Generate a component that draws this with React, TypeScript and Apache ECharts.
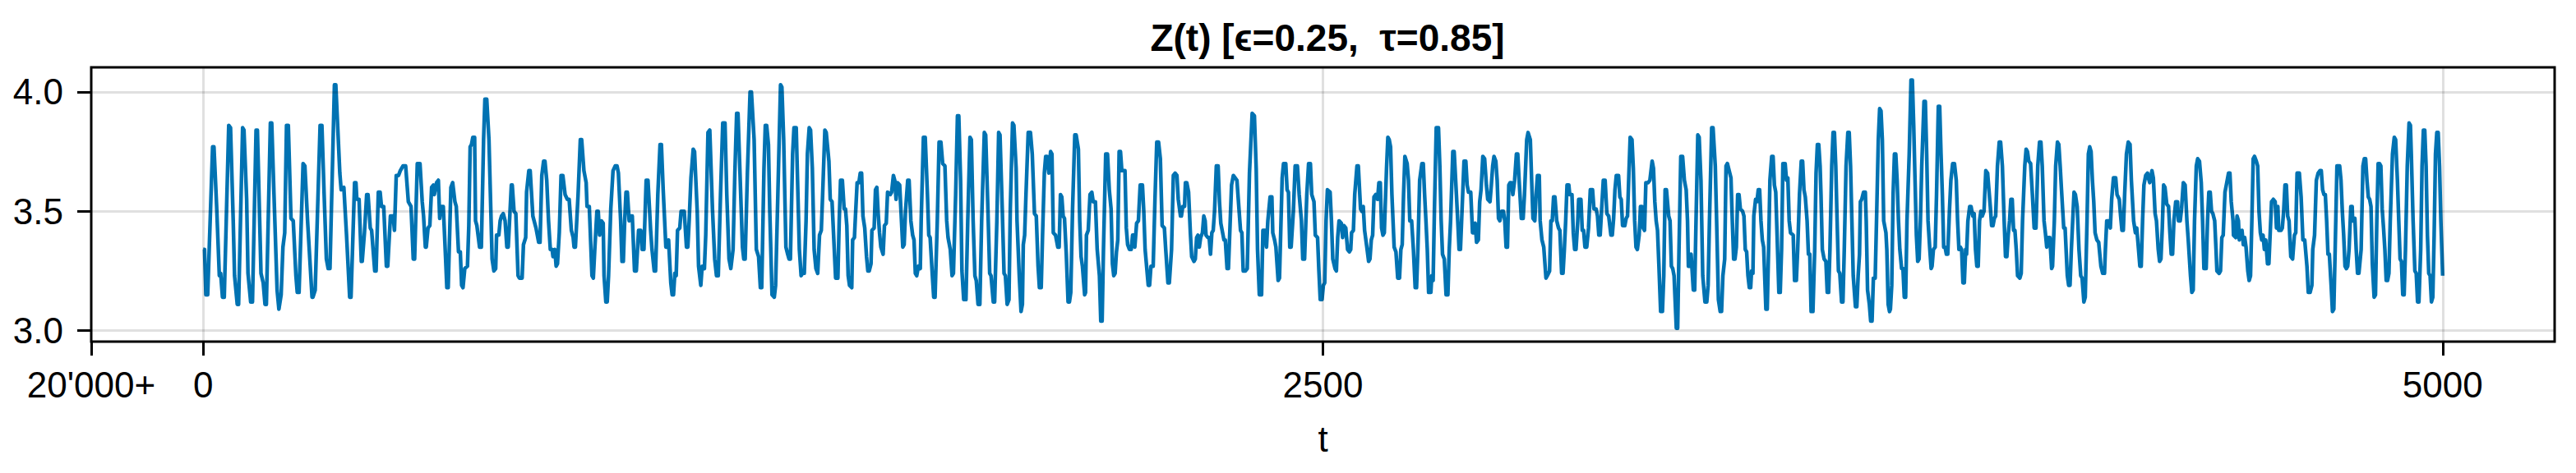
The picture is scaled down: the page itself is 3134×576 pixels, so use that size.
import React, { useEffect, useRef } from 'react';
import * as echarts from 'echarts';

const TITLE = 'Z(t) [ϵ=0.25,  τ=0.85]';
const X_NAME = 't';
const X_OFFSET_LABEL = "20'000+";
const X_LIMITS = [-250, 5250];
const Y_LIMITS = [2.954, 4.103];
const X_TICKS = [0, 2500, 5000];
const Y_TICKS = [3.0, 3.5, 4.0];

// Z(t) samples, [t, Z]
const zA = [[0,3.34],[3,3.34],[6,3.15],[10,3.15],[21,3.77],[24,3.77],[30,3.52],[36,3.23],[39,3.24],[43,3.14],[47,3.14],[57,3.86],[61,3.85],[67,3.46],[70,3.23],[76,3.11],[79,3.11],[88,3.85],[91,3.84],[97,3.55],[100,3.24],[106,3.12],[110,3.12],[118,3.84],[121,3.84],[129,3.24],[134,3.2],[138,3.11],[141,3.11],[150,3.87],[153,3.87],[158,3.57],[165,3.17],[169,3.09],[174,3.15],[178,3.35],[182,3.41],[186,3.86],[190,3.86],[196,3.47],[201,3.46],[207,3.23],[210,3.16],[214,3.16],[223,3.7],[227,3.69],[233,3.46],[238,3.3],[243,3.14],[245,3.14],[250,3.17],[261,3.86],[265,3.86],[270,3.57],[275,3.3],[279,3.26],[283,3.26],[293,4.03],[296,4.03],[305,3.66],[308,3.59],[314,3.6],[320,3.4],[327,3.14],[330,3.14],[338,3.62],[341,3.62],[343,3.55],[348,3.55],[353,3.29],[355,3.29],[360,3.41],[365,3.57],[368,3.57],[373,3.43],[376,3.42],[383,3.25],[386,3.25],[391,3.58],[395,3.58],[398,3.52],[403,3.52],[409,3.27],[412,3.27],[418,3.48],[424,3.48],[427,3.42],[431,3.65],[436,3.65],[440,3.67],[446,3.69],[452,3.69],[458,3.54],[464,3.52],[469,3.3],[472,3.3],[478,3.7],[484,3.7],[489,3.54],[492,3.48],[496,3.35],[498,3.35],[502,3.43],[506,3.44],[510,3.6],[514,3.61],[516,3.57],[521,3.62],[525,3.63],[528,3.47],[531,3.52],[536,3.52],[541,3.31],[544,3.18],[547,3.18],[553,3.6],[557,3.62],[562,3.54],[565,3.52],[570,3.33],[574,3.33],[577,3.19],[580,3.18],[584,3.26],[590,3.27],[593,3.44],[596,3.77],[599,3.78],[602,3.81],[606,3.81],[608,3.46],[611,3.44],[617,3.35],[621,3.35],[626,3.8],[629,3.97],[633,3.97],[638,3.8],[645,3.3],[649,3.25],[653,3.26],[655,3.4],[660,3.4],[663,3.46],[666,3.48]];

const zB = [[670,3.49],[674,3.46],[678,3.35],[681,3.35],[688,3.61],[690,3.61],[694,3.5],[698,3.49],[703,3.23],[706,3.22],[712,3.22],[715,3.36],[720,3.39],[722,3.58],[727,3.67],[730,3.67],[736,3.48],[743,3.43],[749,3.37],[752,3.37],[756,3.65],[760,3.71],[763,3.71],[767,3.63],[771,3.46],[775,3.34],[779,3.34],[781,3.31],[785,3.34],[788,3.27],[791,3.28],[795,3.41],[799,3.65],[803,3.65],[808,3.57],[813,3.55],[817,3.55],[822,3.42],[826,3.39],[828,3.35],[831,3.35],[837,3.57],[842,3.8],[845,3.8],[850,3.67],[855,3.62],[857,3.52],[862,3.52],[868,3.23],[871,3.22],[874,3.33],[879,3.5],[882,3.5],[885,3.4],[889,3.46],[893,3.45],[895,3.23],[899,3.12],[902,3.12],[905,3.23],[910,3.51],[915,3.67],[920,3.69],[924,3.69],[927,3.66],[932,3.46],[935,3.29],[938,3.29],[941,3.46],[944,3.58],[947,3.58],[951,3.46],[954,3.48],[958,3.48],[963,3.25],[967,3.25],[972,3.42],[977,3.42],[980,3.34],[984,3.34],[989,3.63],[993,3.63],[999,3.42],[1002,3.34],[1007,3.25],[1010,3.25],[1015,3.57],[1020,3.78],[1023,3.78],[1027,3.59],[1033,3.35],[1036,3.35],[1039,3.38],[1044,3.2],[1047,3.15],[1050,3.15],[1053,3.24],[1056,3.23],[1059,3.42],[1064,3.43],[1067,3.5],[1074,3.5],[1079,3.35],[1082,3.35],[1085,3.46],[1089,3.64],[1094,3.76],[1097,3.75],[1103,3.5],[1106,3.27],[1111,3.19],[1114,3.27],[1119,3.26],[1122,3.4],[1127,3.83],[1131,3.84],[1137,3.51],[1142,3.3],[1146,3.23],[1150,3.23],[1155,3.57],[1160,3.87],[1165,3.87],[1169,3.57],[1174,3.3],[1178,3.26],[1183,3.34],[1187,3.66],[1191,3.91],[1194,3.91],[1199,3.63],[1204,3.35],[1207,3.3],[1210,3.3],[1215,3.66],[1221,4.0],[1224,4.0],[1230,3.8],[1235,3.34],[1240,3.31],[1244,3.18],[1247,3.18],[1252,3.68],[1255,3.86],[1258,3.86],[1262,3.78],[1265,3.5],[1270,3.15],[1275,3.14],[1278,3.19],[1283,3.57],[1289,4.03],[1292,4.02],[1296,3.8],[1301,3.35],[1305,3.32],[1308,3.3],[1311,3.3],[1316,3.74],[1319,3.85],[1324,3.85]];

const zC = [[1327,3.63],[1331,3.34],[1335,3.23],[1338,3.24],[1342,3.24],[1346,3.46],[1349,3.74],[1353,3.85],[1356,3.84],[1360,3.68],[1364,3.34],[1368,3.26],[1372,3.24],[1376,3.4],[1380,3.42],[1383,3.57],[1388,3.84],[1391,3.83],[1394,3.77],[1397,3.71],[1400,3.55],[1404,3.54],[1409,3.34],[1412,3.22],[1417,3.22],[1420,3.46],[1423,3.63],[1427,3.63],[1431,3.51],[1434,3.51],[1437,3.44],[1440,3.23],[1443,3.19],[1448,3.18],[1450,3.38],[1454,3.39],[1456,3.47],[1460,3.62],[1464,3.62],[1467,3.66],[1470,3.66],[1473,3.48],[1477,3.43],[1481,3.31],[1484,3.25],[1487,3.25],[1491,3.28],[1493,3.42],[1498,3.43],[1501,3.59],[1504,3.6],[1507,3.49],[1510,3.41],[1513,3.35],[1518,3.32],[1521,3.44],[1525,3.45],[1528,3.58],[1534,3.57],[1537,3.58],[1541,3.65],[1544,3.63],[1547,3.55],[1550,3.62],[1555,3.61],[1559,3.46],[1562,3.35],[1565,3.36],[1568,3.5],[1573,3.63],[1576,3.63],[1580,3.46],[1584,3.4],[1587,3.38],[1590,3.24],[1593,3.23],[1597,3.27],[1601,3.26],[1603,3.46],[1608,3.81],[1612,3.81],[1617,3.57],[1620,3.4],[1623,3.39],[1628,3.23],[1631,3.14],[1634,3.14],[1639,3.46],[1643,3.79],[1647,3.79],[1651,3.7],[1656,3.69],[1660,3.46],[1663,3.39],[1668,3.34],[1672,3.23],[1675,3.24],[1680,3.57],[1684,3.9],[1687,3.9],[1691,3.63],[1694,3.25],[1698,3.13],[1703,3.13],[1707,3.46],[1712,3.81],[1715,3.8],[1719,3.46],[1723,3.23],[1726,3.21],[1730,3.11],[1734,3.11],[1738,3.46],[1744,3.83],[1747,3.82],[1752,3.51],[1756,3.24],[1759,3.23],[1764,3.12],[1767,3.12],[1772,3.46],[1776,3.83],[1779,3.82],[1784,3.51],[1788,3.24],[1791,3.23],[1795,3.11],[1799,3.13],[1802,3.51],[1807,3.87],[1810,3.86],[1815,3.68],[1817,3.46],[1822,3.23],[1826,3.08],[1829,3.11],[1831,3.36],[1834,3.4],[1837,3.57],[1842,3.83],[1847,3.83],[1851,3.74],[1856,3.49],[1860,3.48],[1864,3.27],[1867,3.18],[1871,3.18],[1874,3.4],[1878,3.66],[1881,3.73],[1884,3.73],[1888,3.66],[1892,3.75],[1895,3.74],[1898,3.41],[1903,3.4],[1908,3.35],[1911,3.35],[1914,3.57],[1917,3.56],[1920,3.48],[1923,3.47],[1927,3.32],[1931,3.12],[1934,3.12],[1937,3.16],[1941,3.51],[1946,3.82],[1949,3.82],[1954,3.76],[1957,3.46],[1960,3.31],[1963,3.27],[1968,3.15],[1970,3.16],[1972,3.4],[1976,3.42],[1980,3.57],[1984,3.58]];

const zD = [[1987,3.54],[1992,3.54],[1996,3.34],[2001,3.23],[2004,3.04],[2007,3.04],[2010,3.34],[2015,3.74],[2019,3.74],[2023,3.59],[2027,3.51],[2030,3.28],[2033,3.23],[2036,3.24],[2039,3.33],[2042,3.38],[2045,3.75],[2048,3.75],[2051,3.67],[2058,3.67],[2061,3.43],[2064,3.36],[2068,3.34],[2072,3.34],[2075,3.4],[2078,3.4],[2080,3.35],[2084,3.45],[2088,3.46],[2092,3.61],[2097,3.61],[2100,3.5],[2103,3.34],[2110,3.19],[2113,3.19],[2116,3.27],[2121,3.27],[2125,3.55],[2129,3.79],[2133,3.79],[2137,3.72],[2141,3.44],[2146,3.43],[2149,3.34],[2154,3.2],[2157,3.2],[2162,3.34],[2166,3.65],[2170,3.66],[2174,3.65],[2177,3.55],[2182,3.48],[2184,3.48],[2187,3.52],[2191,3.52],[2193,3.62],[2196,3.62],[2200,3.58],[2204,3.41],[2207,3.31],[2212,3.29],[2215,3.3],[2218,3.39],[2221,3.4],[2224,3.35],[2227,3.39],[2231,3.41],[2234,3.48],[2237,3.46],[2239,3.4],[2243,3.39],[2246,3.39],[2249,3.32],[2252,3.41],[2255,3.42],[2258,3.5],[2262,3.69],[2266,3.69],[2269,3.54],[2272,3.45],[2276,3.41],[2279,3.38],[2282,3.38],[2286,3.26],[2289,3.26],[2293,3.46],[2296,3.61],[2300,3.65],[2304,3.64],[2308,3.63],[2311,3.55],[2316,3.42],[2319,3.41],[2322,3.25],[2327,3.25],[2331,3.26],[2336,3.66],[2342,3.91],[2347,3.9],[2351,3.68],[2354,3.34],[2358,3.15],[2363,3.15],[2366,3.42],[2371,3.42],[2374,3.35],[2377,3.46],[2382,3.56],[2386,3.56],[2388,3.41],[2392,3.38],[2395,3.35],[2400,3.21],[2403,3.22],[2406,3.43],[2409,3.64],[2412,3.7],[2417,3.7],[2420,3.59],[2423,3.58],[2426,3.35],[2429,3.35],[2434,3.5],[2438,3.69],[2443,3.69],[2447,3.57],[2452,3.46],[2455,3.3],[2459,3.3],[2464,3.57],[2468,3.7],[2472,3.7],[2475,3.57],[2480,3.54],[2483,3.4],[2488,3.39],[2491,3.25],[2494,3.13],[2498,3.13],[2501,3.19],[2504,3.2],[2507,3.46],[2510,3.59],[2516,3.58],[2519,3.46],[2522,3.3],[2527,3.26],[2530,3.25],[2533,3.39],[2536,3.46],[2541,3.45],[2544,3.39],[2547,3.44],[2551,3.43],[2555,3.34],[2559,3.33],[2562,3.34],[2564,3.41],[2568,3.42],[2571,3.57],[2576,3.69],[2579,3.69],[2584,3.51],[2587,3.5],[2590,3.52],[2593,3.42],[2598,3.35],[2602,3.29],[2605,3.3],[2608,3.38],[2611,3.4],[2614,3.56],[2618,3.57],[2622,3.55],[2625,3.62],[2628,3.62],[2631,3.43],[2634,3.4],[2637,3.41],[2642,3.68],[2645,3.81],[2648,3.8]];

const zE = [[2651,3.77],[2654,3.57],[2659,3.35],[2663,3.33],[2667,3.22],[2671,3.22],[2674,3.34],[2677,3.36],[2680,3.57],[2683,3.73],[2688,3.7],[2691,3.63],[2694,3.46],[2698,3.46],[2702,3.34],[2706,3.18],[2709,3.18],[2712,3.34],[2716,3.63],[2721,3.7],[2724,3.7],[2727,3.57],[2730,3.46],[2733,3.34],[2736,3.16],[2741,3.16],[2743,3.23],[2746,3.21],[2749,3.51],[2753,3.85],[2758,3.85],[2761,3.69],[2764,3.46],[2767,3.32],[2771,3.3],[2775,3.15],[2779,3.15],[2782,3.34],[2785,3.46],[2790,3.75],[2793,3.75],[2798,3.57],[2801,3.46],[2804,3.34],[2807,3.34],[2812,3.57],[2815,3.71],[2819,3.71],[2822,3.61],[2825,3.58],[2830,3.58],[2834,3.41],[2837,3.41],[2840,3.45],[2843,3.37],[2847,3.38],[2850,3.54],[2853,3.59],[2857,3.73],[2861,3.72],[2865,3.61],[2868,3.55],[2873,3.54],[2876,3.61],[2879,3.69],[2882,3.73],[2886,3.71],[2889,3.63],[2892,3.47],[2895,3.46],[2899,3.5],[2903,3.5],[2906,3.46],[2909,3.35],[2912,3.35],[2915,3.61],[2918,3.62],[2921,3.62],[2924,3.57],[2928,3.63],[2932,3.74],[2935,3.74],[2938,3.63],[2943,3.47],[2947,3.47],[2950,3.57],[2955,3.8],[2958,3.83],[2963,3.8],[2966,3.63],[2969,3.47],[2973,3.46],[2976,3.57],[2979,3.65],[2983,3.65],[2985,3.46],[2989,3.38],[2993,3.35],[2998,3.22],[3001,3.23],[3006,3.25],[3009,3.46],[3012,3.46],[3015,3.56],[3018,3.56],[3022,3.46],[3026,3.43],[3029,3.42],[3033,3.24],[3036,3.24],[3039,3.34],[3042,3.46],[3045,3.61],[3049,3.61],[3051,3.57],[3056,3.57],[3059,3.41],[3062,3.34],[3065,3.34],[3069,3.46],[3071,3.55],[3076,3.55],[3079,3.42],[3082,3.42],[3085,3.35],[3089,3.35],[3093,3.43],[3097,3.59],[3102,3.59],[3105,3.51],[3110,3.51],[3113,3.48],[3116,3.4],[3119,3.4],[3122,3.5],[3126,3.63],[3130,3.63],[3134,3.49],[3138,3.48],[3143,3.4],[3146,3.4],[3149,3.47],[3152,3.59],[3155,3.65],[3160,3.65],[3163,3.56],[3166,3.55],[3169,3.44],[3174,3.44],[3177,3.47],[3180,3.48],[3183,3.65],[3186,3.81],[3190,3.8],[3193,3.68],[3196,3.46],[3199,3.35],[3202,3.34],[3206,3.4],[3209,3.52],[3212,3.52],[3215,3.43],[3218,3.42],[3221,3.62],[3226,3.62],[3230,3.63],[3235,3.71],[3238,3.68],[3241,3.54],[3244,3.46],[3247,3.42],[3250,3.28],[3254,3.08],[3258,3.08],[3261,3.23],[3264,3.59],[3267,3.59],[3272,3.48],[3275,3.46],[3278,3.27],[3281,3.26],[3284,3.23],[3289,3.01],[3292,3.01],[3295,3.34],[3299,3.73],[3303,3.73],[3307,3.63]];

const zF = [[3311,3.59],[3314,3.46],[3316,3.27],[3319,3.27],[3322,3.32],[3327,3.17],[3330,3.17],[3333,3.46],[3337,3.82],[3340,3.81],[3344,3.63],[3348,3.23],[3353,3.12],[3357,3.12],[3360,3.19],[3363,3.46],[3368,3.85],[3371,3.85],[3376,3.69],[3379,3.46],[3383,3.13],[3387,3.08],[3390,3.08],[3393,3.23],[3397,3.3],[3400,3.69],[3403,3.7],[3407,3.67],[3411,3.64],[3414,3.46],[3417,3.3],[3420,3.3],[3423,3.35],[3426,3.57],[3429,3.57],[3432,3.51],[3437,3.5],[3440,3.48],[3443,3.34],[3446,3.33],[3449,3.23],[3452,3.18],[3455,3.18],[3457,3.25],[3460,3.24],[3462,3.48],[3466,3.55],[3469,3.54],[3472,3.59],[3475,3.59],[3478,3.46],[3481,3.38],[3484,3.35],[3489,3.09],[3492,3.09],[3495,3.34],[3498,3.63],[3502,3.73],[3505,3.73],[3508,3.61],[3511,3.58],[3515,3.34],[3518,3.16],[3521,3.16],[3524,3.34],[3527,3.7],[3532,3.7],[3535,3.63],[3538,3.64],[3541,3.46],[3544,3.41],[3550,3.4],[3553,3.21],[3557,3.21],[3560,3.34],[3564,3.57],[3568,3.71],[3571,3.71],[3574,3.59],[3577,3.56],[3581,3.46],[3584,3.32],[3587,3.32],[3590,3.08],[3594,3.08],[3598,3.34],[3601,3.66],[3604,3.78],[3607,3.78],[3610,3.69],[3612,3.57],[3615,3.34],[3619,3.3],[3623,3.29],[3626,3.16],[3629,3.16],[3632,3.34],[3636,3.69],[3639,3.83],[3642,3.83],[3645,3.69],[3648,3.46],[3651,3.25],[3654,3.24],[3658,3.12],[3661,3.12],[3664,3.34],[3668,3.69],[3672,3.83],[3675,3.83],[3678,3.69],[3681,3.46],[3684,3.23],[3689,3.1],[3692,3.1],[3695,3.23],[3698,3.32],[3700,3.54],[3703,3.55],[3707,3.58],[3711,3.58],[3713,3.46],[3716,3.17],[3720,3.11],[3723,3.04],[3726,3.04],[3729,3.22],[3733,3.22],[3736,3.46],[3740,3.8],[3743,3.93],[3746,3.92],[3749,3.8],[3752,3.46],[3757,3.41],[3759,3.34],[3762,3.11],[3765,3.08],[3767,3.09],[3770,3.19],[3773,3.57],[3776,3.74],[3779,3.74],[3782,3.63],[3785,3.46],[3788,3.34],[3792,3.26],[3795,3.26],[3798,3.14],[3801,3.14],[3804,3.46],[3809,3.74],[3813,4.05],[3816,4.05],[3819,3.86],[3822,3.63],[3825,3.4],[3828,3.29],[3831,3.3],[3834,3.46],[3837,3.69],[3842,3.96],[3845,3.96],[3848,3.74],[3851,3.46],[3855,3.34],[3858,3.26],[3860,3.27],[3863,3.34],[3867,3.35],[3870,3.57],[3874,3.94],[3877,3.94],[3880,3.74],[3883,3.57],[3886,3.35],[3889,3.35],[3892,3.32],[3895,3.32],[3899,3.51],[3902,3.63],[3906,3.7],[3910,3.7],[3914,3.63],[3917,3.46],[3920,3.34],[3923,3.35],[3926,3.34],[3929,3.2],[3932,3.2],[3935,3.34],[3937,3.32],[3940,3.46],[3944,3.52],[3947,3.52],[3951,3.48],[3954,3.49],[3957,3.34],[3960,3.27],[3963,3.27],[3966,3.46],[3969,3.5]];

const zG = [[3972,3.48],[3976,3.5],[3980,3.67],[3984,3.66],[3987,3.59],[3990,3.52],[3993,3.44],[3996,3.44],[3999,3.47],[4002,3.48],[4006,3.69],[4010,3.79],[4013,3.79],[4017,3.69],[4021,3.46],[4024,3.31],[4027,3.31],[4030,3.4],[4033,3.46],[4036,3.55],[4039,3.55],[4042,3.42],[4045,3.42],[4048,3.34],[4051,3.23],[4056,3.22],[4059,3.24],[4062,3.46],[4067,3.69],[4070,3.76],[4073,3.75],[4076,3.71],[4080,3.7],[4084,3.57],[4088,3.43],[4092,3.43],[4096,3.69],[4100,3.79],[4103,3.79],[4106,3.69],[4110,3.46],[4113,3.41],[4116,3.35],[4119,3.39],[4123,3.39],[4127,3.26],[4129,3.27],[4133,3.46],[4136,3.69],[4140,3.79],[4143,3.78],[4146,3.69],[4149,3.59],[4154,3.43],[4157,3.43],[4162,3.23],[4165,3.19],[4168,3.19],[4171,3.34],[4174,3.46],[4177,3.58],[4180,3.57],[4184,3.52],[4188,3.34],[4192,3.23],[4195,3.22],[4199,3.12],[4202,3.14],[4206,3.46],[4209,3.74],[4212,3.77],[4215,3.75],[4218,3.63],[4221,3.54],[4224,3.41],[4228,3.38],[4232,3.37],[4237,3.27],[4241,3.24],[4245,3.24],[4247,3.34],[4250,3.46],[4254,3.46],[4258,3.43],[4261,3.55],[4265,3.64],[4270,3.64],[4273,3.57],[4278,3.55],[4281,3.48],[4284,3.42],[4287,3.42],[4290,3.57],[4294,3.74],[4298,3.79],[4302,3.78],[4305,3.63],[4310,3.46],[4314,3.41],[4317,3.43],[4321,3.34],[4324,3.27],[4327,3.27],[4330,3.46],[4333,3.61],[4337,3.65],[4341,3.66],[4343,3.64],[4346,3.62],[4351,3.67],[4354,3.64],[4358,3.49],[4361,3.46],[4365,3.34],[4368,3.29],[4371,3.3],[4374,3.43],[4377,3.61],[4380,3.6],[4384,3.53],[4388,3.52],[4391,3.41],[4394,3.32],[4397,3.32],[4400,3.46],[4404,3.54],[4408,3.54],[4410,3.46],[4414,3.46],[4417,3.51],[4421,3.62],[4425,3.61],[4429,3.46],[4432,3.38],[4437,3.23],[4440,3.16],[4443,3.17],[4446,3.46],[4450,3.69],[4453,3.72],[4457,3.71],[4461,3.62],[4464,3.46],[4467,3.26],[4472,3.26],[4475,3.46],[4478,3.58],[4481,3.58],[4484,3.5],[4487,3.49],[4491,3.46],[4494,3.34],[4496,3.25],[4501,3.24],[4504,3.25],[4507,3.39],[4510,3.4],[4514,3.58],[4518,3.62],[4522,3.66],[4525,3.66],[4528,3.54],[4532,3.46],[4533,3.4],[4538,3.39],[4541,3.48],[4544,3.46],[4546,3.38],[4549,3.41],[4552,3.42],[4555,3.36],[4558,3.39],[4561,3.35],[4565,3.25],[4568,3.21],[4571,3.23],[4574,3.46],[4577,3.72],[4580,3.73],[4584,3.71],[4587,3.69],[4590,3.5],[4593,3.41],[4596,3.38],[4599,3.4],[4602,3.34],[4605,3.38],[4609,3.28],[4612,3.28],[4615,3.41],[4618,3.54],[4622,3.55],[4626,3.54],[4629,3.43]];

const zH = [[4632,3.52],[4634,3.42],[4639,3.42],[4642,3.43],[4645,3.5],[4648,3.61],[4651,3.61],[4654,3.48],[4657,3.46],[4661,3.31],[4665,3.3],[4669,3.4],[4672,3.41],[4675,3.66],[4680,3.66],[4684,3.56],[4688,3.38],[4692,3.38],[4697,3.27],[4700,3.16],[4704,3.16],[4708,3.19],[4710,3.34],[4714,3.4],[4718,3.63],[4722,3.66],[4726,3.67],[4729,3.67],[4732,3.59],[4735,3.57],[4738,3.57],[4741,3.46],[4744,3.32],[4747,3.32],[4751,3.19],[4754,3.08],[4757,3.09],[4760,3.34],[4764,3.69],[4767,3.69],[4770,3.69],[4773,3.63],[4776,3.5],[4779,3.4],[4782,3.27],[4785,3.26],[4788,3.27],[4791,3.34],[4795,3.52],[4798,3.52],[4799,3.46],[4804,3.47],[4807,3.34],[4810,3.24],[4813,3.24],[4818,3.34],[4822,3.69],[4825,3.72],[4828,3.72],[4831,3.63],[4834,3.56],[4837,3.55],[4840,3.52],[4843,3.28],[4847,3.14],[4850,3.15],[4853,3.46],[4856,3.7],[4859,3.7],[4862,3.69],[4865,3.51],[4868,3.43],[4871,3.34],[4874,3.21],[4877,3.21],[4880,3.24],[4883,3.46],[4888,3.74],[4892,3.81],[4895,3.8],[4899,3.63],[4902,3.46],[4905,3.3],[4908,3.29],[4911,3.15],[4914,3.15],[4917,3.34],[4921,3.69],[4925,3.87],[4928,3.86],[4930,3.74],[4934,3.46],[4938,3.25],[4941,3.24],[4944,3.12],[4947,3.12],[4951,3.34],[4954,3.69],[4957,3.84],[4960,3.84],[4963,3.69],[4966,3.4],[4969,3.24],[4972,3.23],[4975,3.12],[4978,3.14],[4981,3.4],[4984,3.74],[4987,3.83],[4990,3.83],[4993,3.69],[4996,3.46],[5000,3.23]];

const FONT = "'Liberation Sans', Arial, Helvetica, sans-serif";

export default function App() {
  const ref = useRef<HTMLDivElement>(null);

  useEffect(() => {
    if (!ref.current) return;
    const chart = echarts.init(ref.current, null, { renderer: 'svg' });
    const points = [...zA, ...zB, ...zC, ...zD, ...zE, ...zF, ...zG, ...zH];
    const xLabelValues = [X_LIMITS[0], ...X_TICKS];

    chart.setOption({
      animation: false,
      backgroundColor: '#ffffff',
      title: {
        text: TITLE,
        left: 1610,
        top: 18,
        textAlign: 'center',
        textStyle: { fontFamily: FONT, fontWeight: 'bold', fontSize: 46, color: '#000' },
      },
      grid: {
        left: 111, right: 26, top: 82, bottom: 160,
        show: true, borderColor: '#000', borderWidth: 3, backgroundColor: 'transparent',
      },
      xAxis: {
        type: 'value',
        min: X_LIMITS[0],
        max: X_LIMITS[1],
        name: X_NAME,
        nameLocation: 'middle',
        nameGap: 96,
        nameTextStyle: { fontFamily: FONT, fontSize: 44, color: '#000' },
        axisLine: { show: false, onZero: false },
        splitLine: { show: false },
        axisTick: {
          show: true, inside: false, length: 17,
          customValues: xLabelValues,
          lineStyle: { color: '#000', width: 3 },
        },
        axisLabel: {
          show: true, margin: 30,
          customValues: xLabelValues,
          fontFamily: FONT, fontSize: 44, color: '#000',
          formatter: (v: number) => (v === X_LIMITS[0] ? X_OFFSET_LABEL : String(v)),
        },
      },
      yAxis: {
        type: 'value',
        min: Y_LIMITS[0],
        max: Y_LIMITS[1],
        axisLine: { show: false, onZero: false },
        splitLine: { show: false },
        axisTick: {
          show: true, inside: false, length: 17,
          customValues: Y_TICKS,
          lineStyle: { color: '#000', width: 3 },
        },
        axisLabel: {
          show: true, margin: 34,
          customValues: Y_TICKS,
          fontFamily: FONT, fontSize: 44, color: '#000',
          formatter: (v: number) => v.toFixed(1),
        },
      },
      series: [
        {
          type: 'line',
          data: [],
          z: 1,
          silent: true,
          markLine: {
            silent: true,
            symbol: 'none',
            animation: false,
            label: { show: false },
            lineStyle: { color: 'rgba(0,0,0,0.12)', width: 3, type: 'solid' },
            data: [
              ...X_TICKS.map((v) => ({ xAxis: v })),
              ...Y_TICKS.map((v) => ({ yAxis: v })),
            ],
          },
        },
        {
          type: 'line',
          data: points,
          z: 3,
          showSymbol: false,
          symbol: 'none',
          clip: true,
          lineStyle: { color: '#0072b2', width: 4.5, join: 'round' },
        },
      ],
    });

    return () => chart.dispose();
  }, []);

  return (
    <div
      ref={ref}
      style={{ position: 'fixed', left: 0, top: 0, width: 3134, height: 576, background: '#fff' }}
    />
  );
}
